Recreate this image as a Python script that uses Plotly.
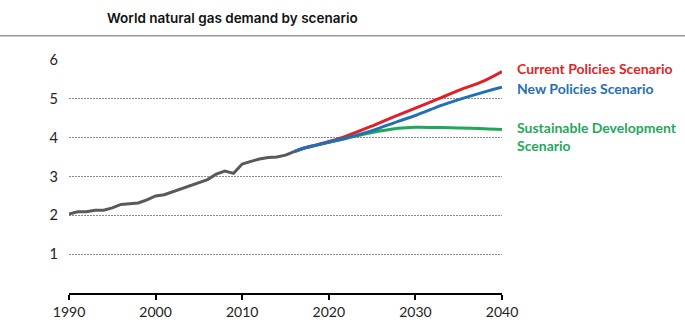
import plotly.graph_objects as go

# Historical world natural gas demand (tcm)
hist_years = list(range(1990, 2017))
hist_values = [2.03, 2.09, 2.09, 2.13, 2.13, 2.19, 2.28, 2.30, 2.32, 2.40,
               2.50, 2.53, 2.61, 2.70, 2.77, 2.84, 2.92, 3.06, 3.14, 3.08,
               3.32, 3.39, 3.45, 3.49, 3.50, 3.55, 3.64]

# Scenario projections
scen_years = [2016, 2017, 2018, 2020, 2022, 2025, 2028, 2030, 2033, 2035, 2038, 2040]
cps_values = [3.64, 3.72, 3.78, 3.90, 4.04, 4.30, 4.58, 4.76, 5.03, 5.22, 5.47, 5.70]
nps_values = [3.64, 3.72, 3.78, 3.88, 3.99, 4.18, 4.42, 4.57, 4.83, 4.98, 5.18, 5.30]
sds_values = [3.64, 3.72, 3.78, 3.88, 3.98, 4.13, 4.24, 4.27, 4.26, 4.25, 4.23, 4.21]

x_ticks = [1990, 2000, 2010, 2020, 2030, 2040]
y_ticks = [1, 2, 3, 4, 5, 6]

GRAY = "#595959"
RED = "#e21f26"
BLUE = "#1f70b6"
GREEN = "#1fa85a"

W, H = 685, 332
L, R, T, B = 69, 183, 60, 33
pw, ph = W - L - R, H - T - B


def px_x(px):
    return (px - L) / pw


def px_y(py):
    return (H - B - py) / ph


fig = go.Figure()
fig.add_trace(go.Scatter(x=scen_years, y=sds_values, mode="lines",
                         line=dict(color=GREEN, width=3), line_shape="spline"))
fig.add_trace(go.Scatter(x=scen_years, y=cps_values, mode="lines",
                         line=dict(color=RED, width=3), line_shape="spline"))
fig.add_trace(go.Scatter(x=scen_years, y=nps_values, mode="lines",
                         line=dict(color=BLUE, width=3), line_shape="spline"))
fig.add_trace(go.Scatter(x=hist_years, y=hist_values, mode="lines",
                         line=dict(color=GRAY, width=3)))

label_font = dict(family="Lato", size=14, weight="bold")
labels = [
    ("Current Policies Scenario", 69, RED),
    ("New Policies Scenario", 89, BLUE),
    ("Sustainable Development<br>Scenario", 138, GREEN),
]
for text, py, color in labels:
    fig.add_annotation(x=px_x(515), y=px_y(py), xref="paper", yref="paper", text=text,
                       showarrow=False, xanchor="left", yanchor="middle", align="left",
                       font=dict(color=color, **label_font))

fig.add_annotation(x=px_x(232), y=px_y(17), xref="paper", yref="paper",
                   text="World natural gas demand by scenario",
                   showarrow=False, xanchor="center", yanchor="middle",
                   font=dict(family="Inter", size=13.5, color="#111", weight=600))

# thin rule under the title spanning the whole width
fig.add_shape(type="line", xref="paper", yref="paper",
              x0=px_x(0), x1=px_x(W), y0=px_y(35), y1=px_y(35),
              line=dict(color="#999999", width=1.5))

fig.update_layout(
    width=W, height=H, margin=dict(l=L, r=R, t=T, b=B),
    plot_bgcolor="white", paper_bgcolor="white", showlegend=False,
    font=dict(family="Lato", size=13, color="#222"),
)
fig.update_xaxes(range=[1990, 2040], tickvals=x_ticks, showgrid=False, zeroline=False,
                 showline=True, linecolor="black", linewidth=1.5,
                 ticks="outside", ticklen=5, tickwidth=1.5, tickcolor="black",
                 tickfont=dict(family="Lato", size=14, color="#222"))
fig.update_yaxes(range=[0, 6], tickvals=y_ticks, showgrid=True, gridcolor="#8a8a8a",
                 griddash="2px,1px", gridwidth=1.3, zeroline=False, showline=False,
                 ticks="", ticklabelstandoff=10,
                 tickfont=dict(family="Lato", size=14.5, color="#222"))

fig.write_html("out.html")
